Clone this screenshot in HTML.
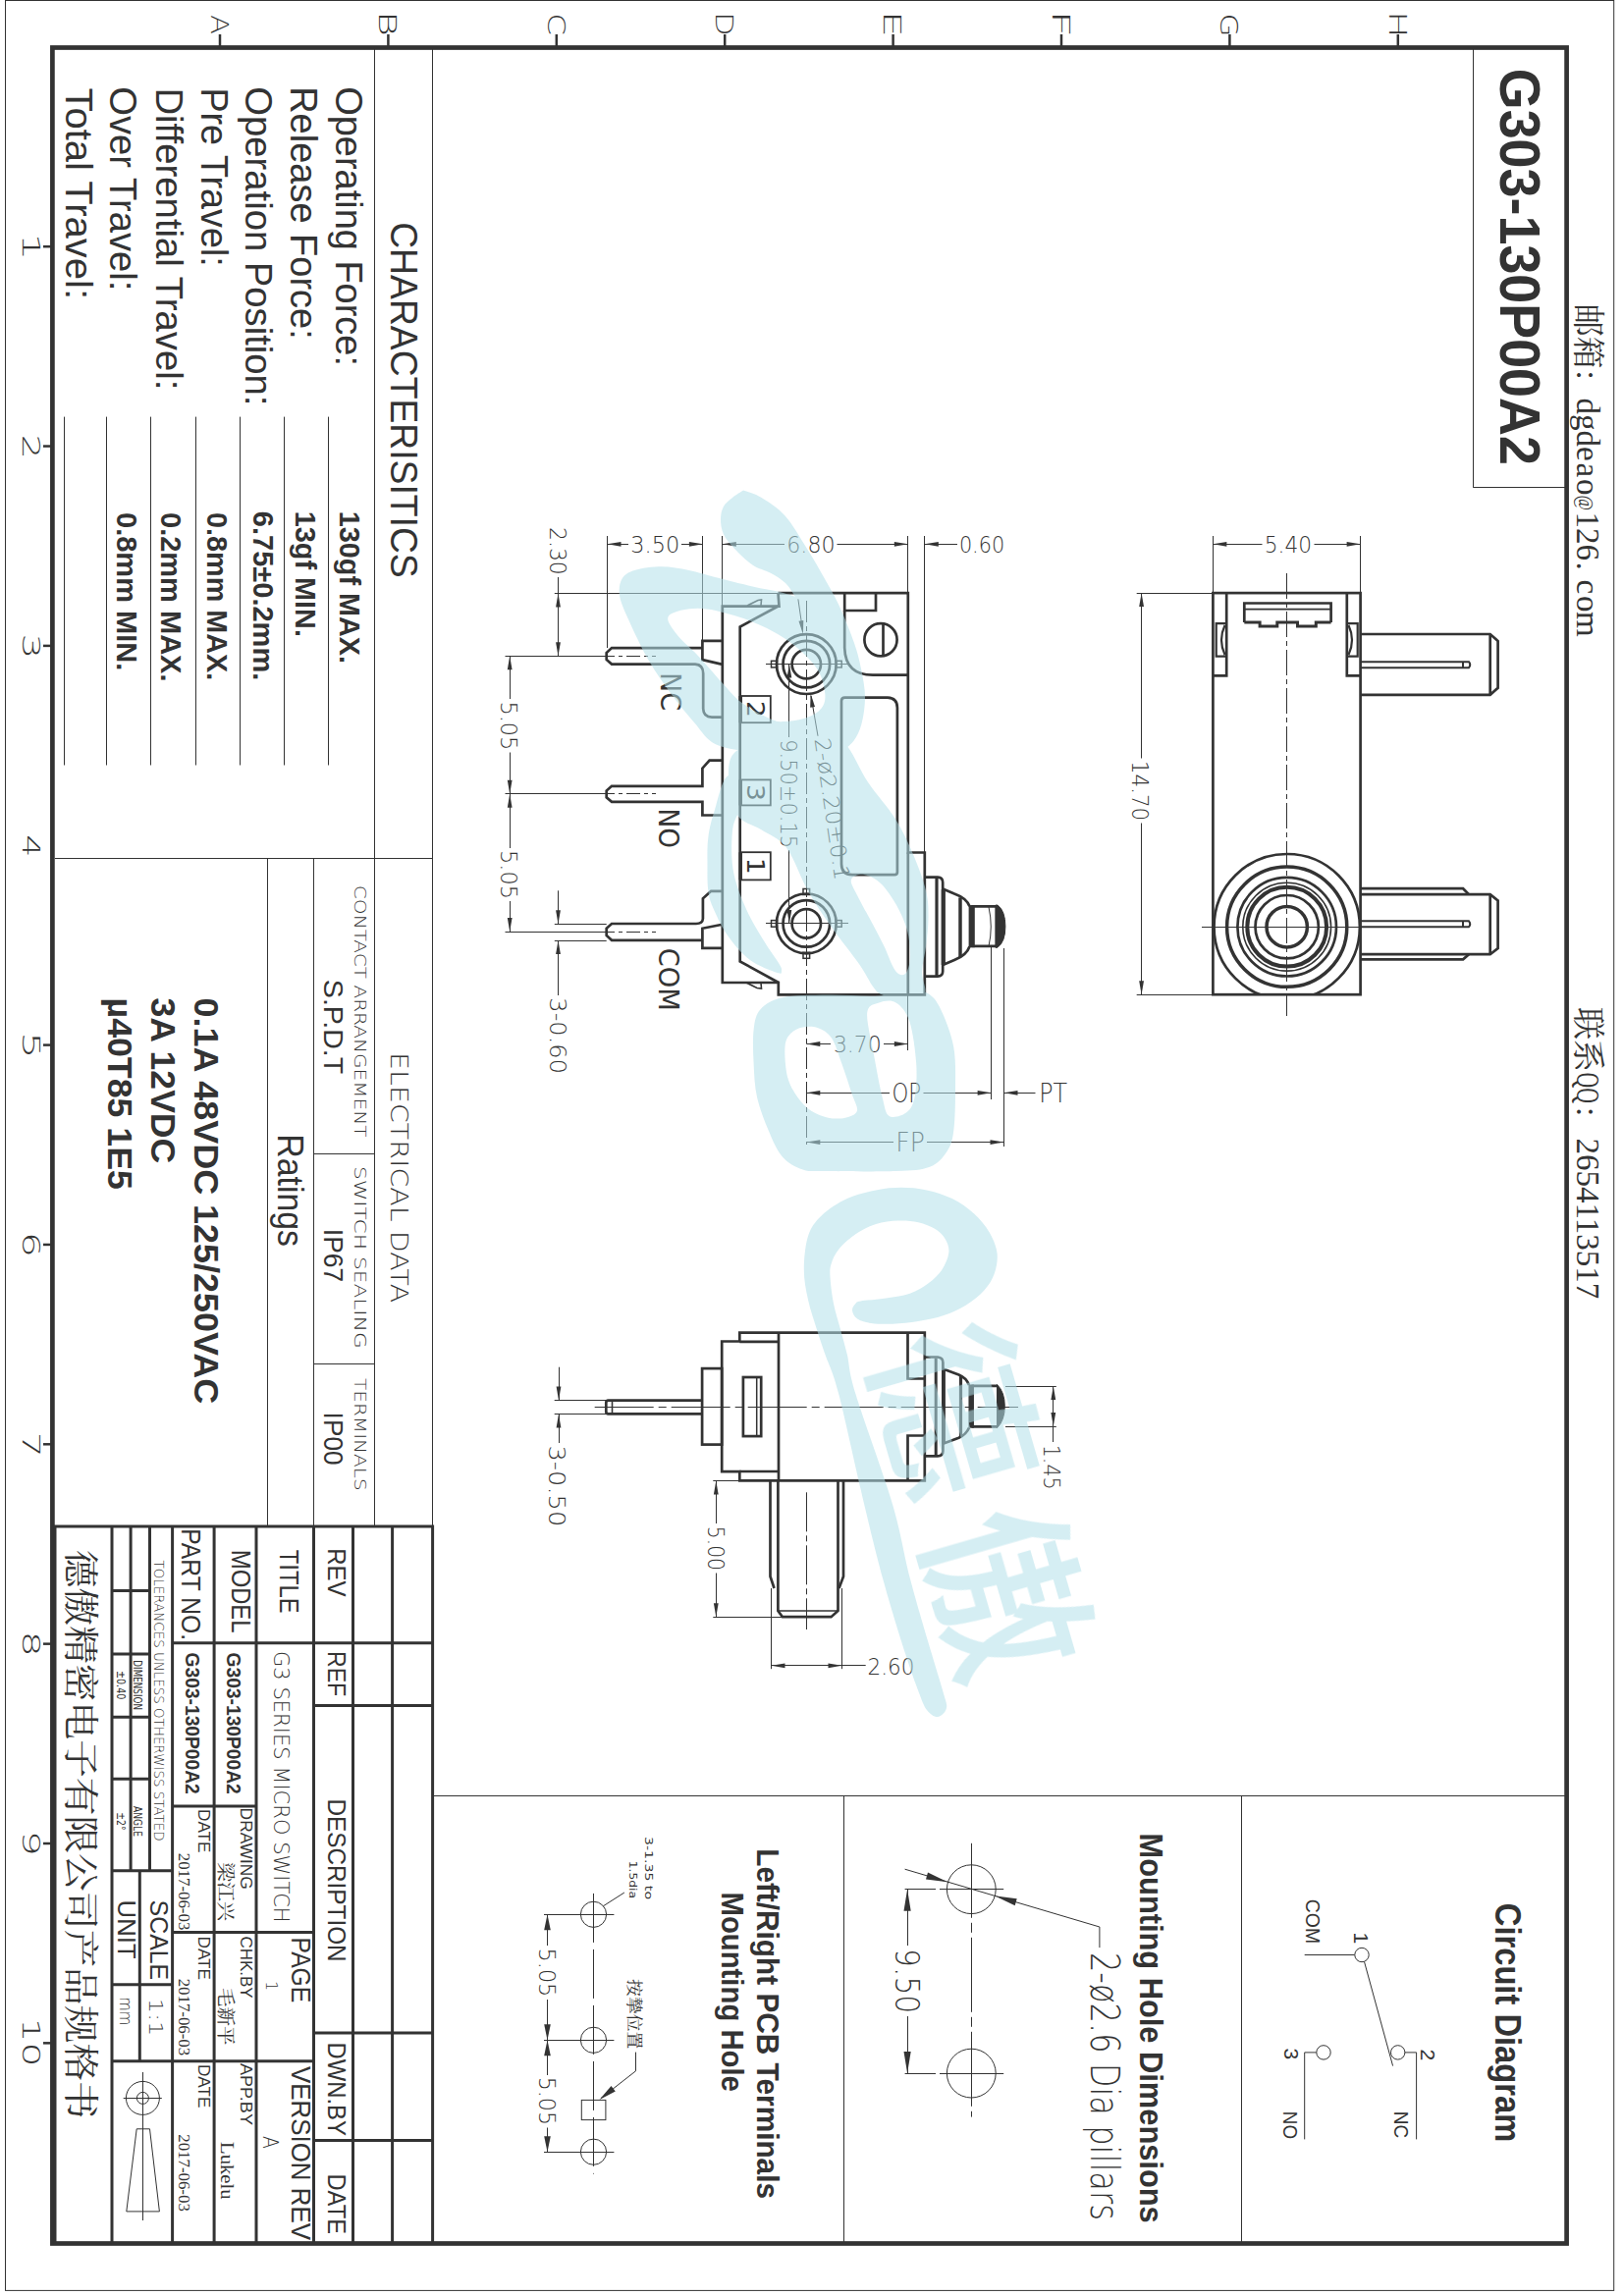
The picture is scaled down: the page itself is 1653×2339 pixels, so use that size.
<!DOCTYPE html>
<html lang="zh"><head><meta charset="utf-8"><title>G303-130P00A2</title>
<style>html,body{margin:0;padding:0;background:#fff}svg{display:block}text{white-space:pre}</style></head>
<body><svg width="1653" height="2339" viewBox="0 0 1653 2339">
<rect width="1653" height="2339" fill="#fff"/>
<rect x="5.5" y="0.5" width="1638.2" height="2332.9" stroke="#333" stroke-width="1" fill="none" />
<rect x="53.4" y="48.5" width="1542.2" height="2237" stroke="#333" stroke-width="4.7" fill="none" />
<line x1="224.0" y1="35" x2="224.0" y2="47" stroke="#333" stroke-width="2.5" />
<text transform="translate(214.8,15.1) rotate(90)" font-family='"DejaVu Sans","Liberation Sans",sans-serif' font-size="25" font-weight="200" fill="#333" text-anchor="start" textLength="20.0" lengthAdjust="spacingAndGlyphs" >A</text>
<line x1="395.4" y1="35" x2="395.4" y2="47" stroke="#333" stroke-width="2.5" />
<text transform="translate(386.2,11.2) rotate(90)" font-family='"DejaVu Sans","Liberation Sans",sans-serif' font-size="25" font-weight="200" fill="#333" text-anchor="start" textLength="25.7" lengthAdjust="spacingAndGlyphs" >B</text>
<line x1="566.8" y1="35" x2="566.8" y2="47" stroke="#333" stroke-width="2.5" />
<text transform="translate(557.5999999999999,13.3) rotate(90)" font-family='"DejaVu Sans","Liberation Sans",sans-serif' font-size="25" font-weight="200" fill="#333" text-anchor="start" textLength="22.7" lengthAdjust="spacingAndGlyphs" >C</text>
<line x1="738.2" y1="35" x2="738.2" y2="47" stroke="#333" stroke-width="2.5" />
<text transform="translate(729.0,12.1) rotate(90)" font-family='"DejaVu Sans","Liberation Sans",sans-serif' font-size="25" font-weight="200" fill="#333" text-anchor="start" textLength="24.8" lengthAdjust="spacingAndGlyphs" >D</text>
<line x1="909.6" y1="35" x2="909.6" y2="47" stroke="#333" stroke-width="2.5" />
<text transform="translate(900.4,10.7) rotate(90)" font-family='"DejaVu Sans","Liberation Sans",sans-serif' font-size="25" font-weight="200" fill="#333" text-anchor="start" textLength="27.3" lengthAdjust="spacingAndGlyphs" >E</text>
<line x1="1081.0" y1="35" x2="1081.0" y2="47" stroke="#333" stroke-width="2.5" />
<text transform="translate(1071.8,10.0) rotate(90)" font-family='"DejaVu Sans","Liberation Sans",sans-serif' font-size="25" font-weight="200" fill="#333" text-anchor="start" textLength="28.3" lengthAdjust="spacingAndGlyphs" >F</text>
<line x1="1252.4" y1="35" x2="1252.4" y2="47" stroke="#333" stroke-width="2.5" />
<text transform="translate(1243.2,13.4) rotate(90)" font-family='"DejaVu Sans","Liberation Sans",sans-serif' font-size="25" font-weight="200" fill="#333" text-anchor="start" textLength="24.1" lengthAdjust="spacingAndGlyphs" >G</text>
<line x1="1423.8" y1="35" x2="1423.8" y2="47" stroke="#333" stroke-width="2.5" />
<text transform="translate(1414.6,11.6) rotate(90)" font-family='"DejaVu Sans","Liberation Sans",sans-serif' font-size="25" font-weight="200" fill="#333" text-anchor="start" textLength="27.0" lengthAdjust="spacingAndGlyphs" >H</text>
<line x1="44" y1="251.2" x2="52" y2="251.2" stroke="#333" stroke-width="2.5" />
<text transform="translate(22.9,236.9) rotate(90)" font-family='"DejaVu Sans","Liberation Sans",sans-serif' font-size="25" font-weight="200" fill="#333" text-anchor="start" textLength="28.9" lengthAdjust="spacingAndGlyphs" >1</text>
<line x1="44" y1="454.54999999999995" x2="52" y2="454.54999999999995" stroke="#333" stroke-width="2.5" />
<text transform="translate(22.9,442.5) rotate(90)" font-family='"DejaVu Sans","Liberation Sans",sans-serif' font-size="25" font-weight="200" fill="#333" text-anchor="start" textLength="25.4" lengthAdjust="spacingAndGlyphs" >2</text>
<line x1="44" y1="657.9" x2="52" y2="657.9" stroke="#333" stroke-width="2.5" />
<text transform="translate(22.9,645.5) rotate(90)" font-family='"DejaVu Sans","Liberation Sans",sans-serif' font-size="25" font-weight="200" fill="#333" text-anchor="start" textLength="26.0" lengthAdjust="spacingAndGlyphs" >3</text>
<text transform="translate(22.9,850.2) rotate(90)" font-family='"DejaVu Sans","Liberation Sans",sans-serif' font-size="25" font-weight="200" fill="#333" text-anchor="start" textLength="23.3" lengthAdjust="spacingAndGlyphs" >4</text>
<line x1="44" y1="1064.6" x2="52" y2="1064.6" stroke="#333" stroke-width="2.5" />
<text transform="translate(22.9,1051.0) rotate(90)" font-family='"DejaVu Sans","Liberation Sans",sans-serif' font-size="25" font-weight="200" fill="#333" text-anchor="start" textLength="27.8" lengthAdjust="spacingAndGlyphs" >5</text>
<line x1="44" y1="1267.95" x2="52" y2="1267.95" stroke="#333" stroke-width="2.5" />
<text transform="translate(22.9,1254.7) rotate(90)" font-family='"DejaVu Sans","Liberation Sans",sans-serif' font-size="25" font-weight="200" fill="#333" text-anchor="start" textLength="26.2" lengthAdjust="spacingAndGlyphs" >6</text>
<line x1="44" y1="1471.3" x2="52" y2="1471.3" stroke="#333" stroke-width="2.5" />
<text transform="translate(22.9,1458.6) rotate(90)" font-family='"DejaVu Sans","Liberation Sans",sans-serif' font-size="25" font-weight="200" fill="#333" text-anchor="start" textLength="26.7" lengthAdjust="spacingAndGlyphs" >7</text>
<line x1="44" y1="1674.65" x2="52" y2="1674.65" stroke="#333" stroke-width="2.5" />
<text transform="translate(22.9,1661.4) rotate(90)" font-family='"DejaVu Sans","Liberation Sans",sans-serif' font-size="25" font-weight="200" fill="#333" text-anchor="start" textLength="26.5" lengthAdjust="spacingAndGlyphs" >8</text>
<line x1="44" y1="1878.0" x2="52" y2="1878.0" stroke="#333" stroke-width="2.5" />
<text transform="translate(22.9,1864.7) rotate(90)" font-family='"DejaVu Sans","Liberation Sans",sans-serif' font-size="25" font-weight="200" fill="#333" text-anchor="start" textLength="26.2" lengthAdjust="spacingAndGlyphs" >9</text>
<line x1="44" y1="2081.35" x2="52" y2="2081.35" stroke="#333" stroke-width="2.5" />
<text transform="translate(22.9,2055.7) rotate(90)" font-family='"DejaVu Sans","Liberation Sans",sans-serif' font-size="25" font-weight="200" fill="#333" text-anchor="start" textLength="24.8" lengthAdjust="spacingAndGlyphs" >1</text>
<text transform="translate(22.9,2080.5) rotate(90)" font-family='"DejaVu Sans","Liberation Sans",sans-serif' font-size="25" font-weight="200" fill="#333" text-anchor="start" textLength="25.2" lengthAdjust="spacingAndGlyphs" >0</text>
<line x1="381.5" y1="50" x2="381.5" y2="1555" stroke="#333" stroke-width="1" />
<line x1="440.5" y1="50" x2="440.5" y2="1555" stroke="#333" stroke-width="1" />
<line x1="56" y1="874.5" x2="440.6" y2="874.5" stroke="#333" stroke-width="1" />
<line x1="65.5" y1="424.6" x2="65.5" y2="779.5" stroke="#333" stroke-width="1" />
<line x1="108.5" y1="424.6" x2="108.5" y2="779.5" stroke="#333" stroke-width="1" />
<line x1="153.5" y1="424.6" x2="153.5" y2="779.5" stroke="#333" stroke-width="1" />
<line x1="199.5" y1="424.6" x2="199.5" y2="779.5" stroke="#333" stroke-width="1" />
<line x1="244.5" y1="424.6" x2="244.5" y2="779.5" stroke="#333" stroke-width="1" />
<line x1="289.5" y1="424.6" x2="289.5" y2="779.5" stroke="#333" stroke-width="1" />
<line x1="334.5" y1="424.6" x2="334.5" y2="779.5" stroke="#333" stroke-width="1" />
<text transform="translate(398,226.2) rotate(90)" font-family='"Liberation Sans","Noto Sans CJK SC",sans-serif' font-size="38" font-weight="400" fill="#333" text-anchor="start" textLength="362.5" lengthAdjust="spacingAndGlyphs" >CHARACTERISITICS</text>
<text transform="translate(341.5,88.2) rotate(90)" font-family='"Liberation Sans","Noto Sans CJK SC",sans-serif' font-size="38" font-weight="400" fill="#333" text-anchor="start" textLength="284.8" lengthAdjust="spacingAndGlyphs" >Operating Force:</text>
<text transform="translate(295.8,88.2) rotate(90)" font-family='"Liberation Sans","Noto Sans CJK SC",sans-serif' font-size="38" font-weight="400" fill="#333" text-anchor="start" textLength="257.5" lengthAdjust="spacingAndGlyphs" >Release Force:</text>
<text transform="translate(250.1,88.2) rotate(90)" font-family='"Liberation Sans","Noto Sans CJK SC",sans-serif' font-size="38" font-weight="400" fill="#333" text-anchor="start" textLength="325.3" lengthAdjust="spacingAndGlyphs" >Operation Position:</text>
<text transform="translate(204.9,89.4) rotate(90)" font-family='"Liberation Sans","Noto Sans CJK SC",sans-serif' font-size="38" font-weight="400" fill="#333" text-anchor="start" textLength="182.4" lengthAdjust="spacingAndGlyphs" >Pre Travel:</text>
<text transform="translate(158.7,89.4) rotate(90)" font-family='"Liberation Sans","Noto Sans CJK SC",sans-serif' font-size="38" font-weight="400" fill="#333" text-anchor="start" textLength="308.1" lengthAdjust="spacingAndGlyphs" >Differential Travel:</text>
<text transform="translate(112.4,88.2) rotate(90)" font-family='"Liberation Sans","Noto Sans CJK SC",sans-serif' font-size="38" font-weight="400" fill="#333" text-anchor="start" textLength="208.3" lengthAdjust="spacingAndGlyphs" >Over Travel:</text>
<text transform="translate(67.3,89.4) rotate(90)" font-family='"Liberation Sans","Noto Sans CJK SC",sans-serif' font-size="38" font-weight="400" fill="#333" text-anchor="start" textLength="215.6" lengthAdjust="spacingAndGlyphs" >Total Travel:</text>
<text transform="translate(345.7,520.8) rotate(90)" font-family='"Liberation Sans","Noto Sans CJK SC",sans-serif' font-size="30" font-weight="700" fill="#333" text-anchor="start" textLength="155.2" lengthAdjust="spacingAndGlyphs" >130gf MAX.</text>
<text transform="translate(301.4,520.8) rotate(90)" font-family='"Liberation Sans","Noto Sans CJK SC",sans-serif' font-size="30" font-weight="700" fill="#333" text-anchor="start" textLength="128.1" lengthAdjust="spacingAndGlyphs" >13gf MIN.</text>
<text transform="translate(258.3,520.8) rotate(90)" font-family='"Liberation Sans","Noto Sans CJK SC",sans-serif' font-size="30" font-weight="700" fill="#333" text-anchor="start" textLength="172.5" lengthAdjust="spacingAndGlyphs" >6.75±0.2mm.</text>
<text transform="translate(211.4,522) rotate(90)" font-family='"Liberation Sans","Noto Sans CJK SC",sans-serif' font-size="30" font-weight="700" fill="#333" text-anchor="start" textLength="171.3" lengthAdjust="spacingAndGlyphs" >0.8mm MAX.</text>
<text transform="translate(163.9,522) rotate(90)" font-family='"Liberation Sans","Noto Sans CJK SC",sans-serif' font-size="30" font-weight="700" fill="#333" text-anchor="start" textLength="172.5" lengthAdjust="spacingAndGlyphs" >0.2mm MAX.</text>
<text transform="translate(119,522) rotate(90)" font-family='"Liberation Sans","Noto Sans CJK SC",sans-serif' font-size="30" font-weight="700" fill="#333" text-anchor="start" textLength="161.4" lengthAdjust="spacingAndGlyphs" >0.8mm MIN.</text>
<line x1="272.5" y1="874.3" x2="272.5" y2="1555" stroke="#333" stroke-width="1" />
<line x1="319.5" y1="874.3" x2="319.5" y2="1555" stroke="#333" stroke-width="1" />
<line x1="319.1" y1="1175.5" x2="381.5" y2="1175.5" stroke="#333" stroke-width="1" />
<line x1="319.1" y1="1389.5" x2="381.5" y2="1389.5" stroke="#333" stroke-width="1" />
<text transform="translate(398.3,1072) rotate(90)" font-family='"DejaVu Sans","Liberation Sans",sans-serif' font-size="24.4" font-weight="200" fill="#333" text-anchor="start" textLength="255.2" lengthAdjust="spacingAndGlyphs" >ELECTRICAL DATA</text>
<text transform="translate(361,901.8) rotate(90)" font-family='"DejaVu Sans","Liberation Sans",sans-serif' font-size="16.2" font-weight="200" fill="#333" text-anchor="start" textLength="256.8" lengthAdjust="spacingAndGlyphs" >CONTACT ARRANGEMENT</text>
<text transform="translate(361,1188) rotate(90)" font-family='"DejaVu Sans","Liberation Sans",sans-serif' font-size="16.2" font-weight="200" fill="#333" text-anchor="start" textLength="185.8" lengthAdjust="spacingAndGlyphs" >SWITCH SEALING</text>
<text transform="translate(361,1404) rotate(90)" font-family='"DejaVu Sans","Liberation Sans",sans-serif' font-size="16.2" font-weight="200" fill="#333" text-anchor="start" textLength="114.7" lengthAdjust="spacingAndGlyphs" >TERMINALS</text>
<text transform="translate(329.6,997.8) rotate(90)" font-family='"Liberation Sans","Noto Sans CJK SC",sans-serif' font-size="27.5" font-weight="400" fill="#333" text-anchor="start" textLength="96.5" lengthAdjust="spacingAndGlyphs" >S.P.D.T</text>
<text transform="translate(329.6,1251.8) rotate(90)" font-family='"Liberation Sans","Noto Sans CJK SC",sans-serif' font-size="27.5" font-weight="400" fill="#333" text-anchor="start" textLength="54.3" lengthAdjust="spacingAndGlyphs" >IP67</text>
<text transform="translate(329.6,1438.6) rotate(90)" font-family='"Liberation Sans","Noto Sans CJK SC",sans-serif' font-size="27.5" font-weight="400" fill="#333" text-anchor="start" textLength="54" lengthAdjust="spacingAndGlyphs" >IP00</text>
<text transform="translate(283.3,1155.3) rotate(90)" font-family='"Liberation Sans","Noto Sans CJK SC",sans-serif' font-size="36.5" font-weight="400" fill="#333" text-anchor="start" textLength="114.7" lengthAdjust="spacingAndGlyphs" >Ratings</text>
<text transform="translate(197.6,1016.6) rotate(90)" font-family='"Liberation Sans","Noto Sans CJK SC",sans-serif' font-size="35.5" font-weight="700" fill="#333" text-anchor="start" textLength="413.7" lengthAdjust="spacingAndGlyphs" >0.1A 48VDC 125/250VAC</text>
<text transform="translate(154.3,1016.6) rotate(90)" font-family='"Liberation Sans","Noto Sans CJK SC",sans-serif' font-size="35.5" font-weight="700" fill="#333" text-anchor="start" textLength="168.6" lengthAdjust="spacingAndGlyphs" >3A 12VDC</text>
<text transform="translate(110,1016.6) rotate(90)" font-family='"Liberation Sans","Noto Sans CJK SC",sans-serif' font-size="35.5" font-weight="700" fill="#333" text-anchor="start" textLength="195.2" lengthAdjust="spacingAndGlyphs" >µ40T85 1E5</text>
<rect x="56" y="1555" width="384.6" height="730.5" stroke="#333" stroke-width="3.0" fill="none" />
<line x1="114" y1="1555" x2="114" y2="2285.5" stroke="#333" stroke-width="3.0" />
<line x1="175.6" y1="1555" x2="175.6" y2="2285.5" stroke="#333" stroke-width="3.0" />
<line x1="218.1" y1="1555" x2="218.1" y2="2285.5" stroke="#333" stroke-width="3.0" />
<line x1="261" y1="1555" x2="261" y2="2285.5" stroke="#333" stroke-width="3.0" />
<line x1="319.5" y1="1555" x2="319.5" y2="2285.5" stroke="#333" stroke-width="3.0" />
<line x1="359.5" y1="1555" x2="359.5" y2="2285.5" stroke="#333" stroke-width="3.0" />
<line x1="399.6" y1="1555" x2="399.6" y2="2285.5" stroke="#333" stroke-width="3.0" />
<line x1="133.1" y1="1555" x2="133.1" y2="1905.7" stroke="#333" stroke-width="3.0" />
<line x1="152.5" y1="1555" x2="152.5" y2="1905.7" stroke="#333" stroke-width="3.0" />
<line x1="175.6" y1="1673.7" x2="440.6" y2="1673.7" stroke="#333" stroke-width="3.0" />
<line x1="319.5" y1="1737.5" x2="440.6" y2="1737.5" stroke="#333" stroke-width="3.0" />
<line x1="114" y1="1620.4" x2="152.5" y2="1620.4" stroke="#333" stroke-width="3.0" />
<line x1="114" y1="1685" x2="152.5" y2="1685" stroke="#333" stroke-width="3.0" />
<line x1="114" y1="1749.2" x2="152.5" y2="1749.2" stroke="#333" stroke-width="3.0" />
<line x1="114" y1="1812.3" x2="152.5" y2="1812.3" stroke="#333" stroke-width="3.0" />
<line x1="175.6" y1="1840" x2="261" y2="1840" stroke="#333" stroke-width="3.0" />
<line x1="114" y1="1905.7" x2="175.6" y2="1905.7" stroke="#333" stroke-width="3.0" />
<line x1="175.6" y1="1968.5" x2="319.5" y2="1968.5" stroke="#333" stroke-width="3.0" />
<line x1="114" y1="2021.8" x2="175.6" y2="2021.8" stroke="#333" stroke-width="3.0" />
<line x1="319.5" y1="2071" x2="440.6" y2="2071" stroke="#333" stroke-width="3.0" />
<line x1="114" y1="2099.8" x2="319.5" y2="2099.8" stroke="#333" stroke-width="3.0" />
<line x1="319.5" y1="2180.5" x2="440.6" y2="2180.5" stroke="#333" stroke-width="3.0" />
<line x1="142.3" y1="1905.7" x2="142.3" y2="2099.8" stroke="#333" stroke-width="3.0" />
<text transform="translate(334.3,1577.3) rotate(90)" font-family='"Liberation Sans","Noto Sans CJK SC",sans-serif' font-size="26" font-weight="400" fill="#333" text-anchor="start" textLength="49.3" lengthAdjust="spacingAndGlyphs" >REV</text>
<text transform="translate(334.3,1682) rotate(90)" font-family='"Liberation Sans","Noto Sans CJK SC",sans-serif' font-size="26" font-weight="400" fill="#333" text-anchor="start" textLength="46.2" lengthAdjust="spacingAndGlyphs" >REF</text>
<text transform="translate(334.3,1832.4) rotate(90)" font-family='"Liberation Sans","Noto Sans CJK SC",sans-serif' font-size="26" font-weight="400" fill="#333" text-anchor="start" textLength="166.3" lengthAdjust="spacingAndGlyphs" >DESCRIPTION</text>
<text transform="translate(334.3,2080.4) rotate(90)" font-family='"Liberation Sans","Noto Sans CJK SC",sans-serif' font-size="26" font-weight="400" fill="#333" text-anchor="start" textLength="95.5" lengthAdjust="spacingAndGlyphs" >DWN.BY</text>
<text transform="translate(334.3,2214.4) rotate(90)" font-family='"Liberation Sans","Noto Sans CJK SC",sans-serif' font-size="26" font-weight="400" fill="#333" text-anchor="start" textLength="61.6" lengthAdjust="spacingAndGlyphs" >DATE</text>
<text transform="translate(285,1578.8) rotate(90)" font-family='"Liberation Sans","Noto Sans CJK SC",sans-serif' font-size="28" font-weight="400" fill="#333" text-anchor="start" textLength="64.7" lengthAdjust="spacingAndGlyphs" >TITLE</text>
<text transform="translate(235.7,1578.8) rotate(90)" font-family='"Liberation Sans","Noto Sans CJK SC",sans-serif' font-size="28" font-weight="400" fill="#333" text-anchor="start" textLength="84.7" lengthAdjust="spacingAndGlyphs" >MODEL</text>
<text transform="translate(184.8,1557.2) rotate(90)" font-family='"Liberation Sans","Noto Sans CJK SC",sans-serif' font-size="28" font-weight="400" fill="#333" text-anchor="start" textLength="114" lengthAdjust="spacingAndGlyphs" >PART NO.</text>
<text transform="translate(278.8,1682) rotate(90)" font-family='"DejaVu Sans","Liberation Sans",sans-serif' font-size="22" font-weight="200" fill="#333" text-anchor="start" textLength="276.7" lengthAdjust="spacingAndGlyphs" >G3 SERIES MICRO SWITCH</text>
<text transform="translate(231,1683.5) rotate(90)" font-family='"Liberation Sans","Noto Sans CJK SC",sans-serif' font-size="19.5" font-weight="700" fill="#333" text-anchor="start" textLength="144.3" lengthAdjust="spacingAndGlyphs" >G303-130P00A2</text>
<text transform="translate(188.5,1683.5) rotate(90)" font-family='"Liberation Sans","Noto Sans CJK SC",sans-serif' font-size="19.5" font-weight="700" fill="#333" text-anchor="start" textLength="144.3" lengthAdjust="spacingAndGlyphs" >G303-130P00A2</text>
<text transform="translate(297.3,1973.5) rotate(90)" font-family='"Liberation Sans","Noto Sans CJK SC",sans-serif' font-size="28" font-weight="400" fill="#333" text-anchor="start" textLength="66.8" lengthAdjust="spacingAndGlyphs" >PAGE</text>
<text transform="translate(270.5,2018) rotate(90)" font-family='"DejaVu Sans","Liberation Sans",sans-serif' font-size="16" font-weight="200" fill="#333" text-anchor="start" >1</text>
<text transform="translate(297.3,2105) rotate(90)" font-family='"Liberation Sans","Noto Sans CJK SC",sans-serif' font-size="28" font-weight="400" fill="#333" text-anchor="start" textLength="177" lengthAdjust="spacingAndGlyphs" >VERSION REV</text>
<text transform="translate(268,2175.9) rotate(90)" font-family='"DejaVu Sans","Liberation Sans",sans-serif' font-size="21" font-weight="200" fill="#333" text-anchor="start" textLength="13" lengthAdjust="spacingAndGlyphs" >A</text>
<text transform="translate(244.9,1841.6) rotate(90)" font-family='"Liberation Sans","Noto Sans CJK SC",sans-serif' font-size="16" font-weight="400" fill="#333" text-anchor="start" textLength="83.2" lengthAdjust="spacingAndGlyphs" >DRAWING</text>
<text transform="translate(244.9,1972.5) rotate(90)" font-family='"Liberation Sans","Noto Sans CJK SC",sans-serif' font-size="16" font-weight="400" fill="#333" text-anchor="start" textLength="63.2" lengthAdjust="spacingAndGlyphs" >CHK.BY</text>
<text transform="translate(244.9,2102) rotate(90)" font-family='"Liberation Sans","Noto Sans CJK SC",sans-serif' font-size="16" font-weight="400" fill="#333" text-anchor="start" textLength="63" lengthAdjust="spacingAndGlyphs" >APP.BY</text>
<text transform="translate(222.5,1897) rotate(90)" font-family='"Liberation Serif","Noto Serif CJK SC",serif' font-size="19" font-weight="400" fill="#333" text-anchor="start" textLength="60" lengthAdjust="spacingAndGlyphs" >梁江兴</text>
<text transform="translate(222.5,2025) rotate(90)" font-family='"Liberation Serif","Noto Serif CJK SC",serif' font-size="19" font-weight="400" fill="#333" text-anchor="start" textLength="58.5" lengthAdjust="spacingAndGlyphs" >毛新平</text>
<text transform="translate(224.5,2182) rotate(90)" font-family='"Liberation Serif","Noto Serif CJK SC",serif' font-size="19" font-weight="400" fill="#333" text-anchor="start" textLength="58.6" lengthAdjust="spacingAndGlyphs" >Lukelu</text>
<text transform="translate(201.8,1843) rotate(90)" font-family='"Liberation Sans","Noto Sans CJK SC",sans-serif' font-size="17" font-weight="400" fill="#333" text-anchor="start" textLength="44.5" lengthAdjust="spacingAndGlyphs" >DATE</text>
<text transform="translate(201.8,1972.5) rotate(90)" font-family='"Liberation Sans","Noto Sans CJK SC",sans-serif' font-size="17" font-weight="400" fill="#333" text-anchor="start" textLength="44.5" lengthAdjust="spacingAndGlyphs" >DATE</text>
<text transform="translate(201.8,2102.9) rotate(90)" font-family='"Liberation Sans","Noto Sans CJK SC",sans-serif' font-size="17" font-weight="400" fill="#333" text-anchor="start" textLength="44.5" lengthAdjust="spacingAndGlyphs" >DATE</text>
<text transform="translate(181.5,1887.8) rotate(90)" font-family='"Liberation Serif","Noto Serif CJK SC",serif' font-size="17" font-weight="400" fill="#333" text-anchor="start" textLength="78.5" lengthAdjust="spacingAndGlyphs" >2017-06-03</text>
<text transform="translate(181.5,2015.7) rotate(90)" font-family='"Liberation Serif","Noto Serif CJK SC",serif' font-size="17" font-weight="400" fill="#333" text-anchor="start" textLength="78.5" lengthAdjust="spacingAndGlyphs" >2017-06-03</text>
<text transform="translate(181.5,2174.3) rotate(90)" font-family='"Liberation Serif","Noto Serif CJK SC",serif' font-size="17" font-weight="400" fill="#333" text-anchor="start" textLength="78.5" lengthAdjust="spacingAndGlyphs" >2017-06-03</text>
<text transform="translate(152.5,1935.6) rotate(90)" font-family='"Liberation Sans","Noto Sans CJK SC",sans-serif' font-size="26" font-weight="400" fill="#333" text-anchor="start" textLength="81.6" lengthAdjust="spacingAndGlyphs" >SCALE</text>
<text transform="translate(120.1,1935.6) rotate(90)" font-family='"Liberation Sans","Noto Sans CJK SC",sans-serif' font-size="26" font-weight="400" fill="#333" text-anchor="start" textLength="60" lengthAdjust="spacingAndGlyphs" >UNIT</text>
<text transform="translate(152,2035.7) rotate(90)" font-family='"DejaVu Sans","Liberation Sans",sans-serif' font-size="20" font-weight="200" fill="#333" text-anchor="start" textLength="38.5" lengthAdjust="spacingAndGlyphs" >1:1</text>
<text transform="translate(121.7,2034.2) rotate(90)" font-family='"DejaVu Sans","Liberation Sans",sans-serif' font-size="17" font-weight="200" fill="#333" text-anchor="start" textLength="29.2" lengthAdjust="spacingAndGlyphs" >mm</text>
<text transform="translate(157.1,1589.6) rotate(90)" font-family='"DejaVu Sans","Liberation Sans",sans-serif' font-size="14.8" font-weight="200" fill="#333" text-anchor="start" textLength="285.9" lengthAdjust="spacingAndGlyphs" >TOLERANCES UNLESS OTHERWISS STATED</text>
<text transform="translate(136.2,1691.3) rotate(90)" font-family='"DejaVu Sans","Liberation Sans",sans-serif' font-size="11.5" font-weight="400" fill="#333" text-anchor="start" textLength="50.7" lengthAdjust="spacingAndGlyphs" >DIMENSION</text>
<text transform="translate(118.6,1702) rotate(90)" font-family='"DejaVu Sans","Liberation Sans",sans-serif' font-size="12" font-weight="400" fill="#333" text-anchor="start" textLength="29.3" lengthAdjust="spacingAndGlyphs" >±0.40</text>
<text transform="translate(136.2,1840) rotate(90)" font-family='"DejaVu Sans","Liberation Sans",sans-serif' font-size="11.5" font-weight="400" fill="#333" text-anchor="start" textLength="30.9" lengthAdjust="spacingAndGlyphs" >ANGLE</text>
<text transform="translate(118.6,1846.2) rotate(90)" font-family='"DejaVu Sans","Liberation Sans",sans-serif' font-size="12" font-weight="400" fill="#333" text-anchor="start" textLength="18.5" lengthAdjust="spacingAndGlyphs" >±2°</text>
<text transform="translate(68.5,1578.8) rotate(90)" font-family='"Liberation Serif","Noto Serif CJK SC",serif' font-size="36" font-weight="400" fill="#333" text-anchor="start" textLength="580" lengthAdjust="spacingAndGlyphs" >德傲精密电子有限公司产品规格书</text>
<circle cx="145.4" cy="2137.4" r="17" stroke="#333" stroke-width="1" fill="none"/>
<circle cx="145.4" cy="2137.4" r="6" stroke="#333" stroke-width="1" fill="none"/>
<line x1="125.7" y1="2137.5" x2="164.8" y2="2137.5" stroke="#333" stroke-width="1" />
<line x1="145.5" y1="2111" x2="145.5" y2="2262" stroke="#333" stroke-width="1" />
<path d="M139.2,2168.8 L152.5,2168.8 L162.4,2252.9 L128.8,2252.9 Z" stroke="#333" stroke-width="1" fill="none" />
<line x1="1500.5" y1="50" x2="1500.5" y2="496.8" stroke="#333" stroke-width="1" />
<line x1="1500.6" y1="496.5" x2="1595" y2="496.5" stroke="#333" stroke-width="1" />
<text transform="translate(1527.6,69.8) rotate(90)" font-family='"Liberation Sans","Noto Sans CJK SC",sans-serif' font-size="57" font-weight="700" fill="#333" text-anchor="start" textLength="404.1" lengthAdjust="spacingAndGlyphs" >G303-130P00A2</text>
<text transform="translate(1606.3,309.8) rotate(90)" font-family='"Liberation Serif","Noto Serif CJK SC",serif' font-size="33" font-weight="400" fill="#333" text-anchor="start" textLength="66" lengthAdjust="spacingAndGlyphs" >邮箱</text>
<text transform="translate(1606.3,377.5) rotate(90)" font-family='"Liberation Serif","Noto Serif CJK SC",serif' font-size="33" font-weight="400" fill="#333" text-anchor="start" >:</text>
<text transform="translate(1606.3,405.5) rotate(90)" x="0.0 16.5 33.0 49.5 66.0 82.5" font-family='"Liberation Serif","Noto Serif CJK SC",serif' font-size="33" fill="#333">dgdeao</text>
<text transform="translate(1607.5,504.5) rotate(90)" font-family='"Liberation Serif","Noto Serif CJK SC",serif' font-size="20" font-weight="400" fill="#333" text-anchor="start" textLength="15.5" lengthAdjust="spacingAndGlyphs" >@</text>
<text transform="translate(1606.3,521.5) rotate(90)" x="0.0 16.5 33.0" font-family='"Liberation Serif","Noto Serif CJK SC",serif' font-size="33" fill="#333">126</text>
<text transform="translate(1606.3,572.5) rotate(90)" font-family='"Liberation Serif","Noto Serif CJK SC",serif' font-size="33" font-weight="400" fill="#333" text-anchor="start" >.</text>
<text transform="translate(1606.3,590.5) rotate(90)" x="0.0 16.5 32.5" font-family='"Liberation Serif","Noto Serif CJK SC",serif' font-size="33" fill="#333">com</text>
<text transform="translate(1606.3,1026) rotate(90)" font-family='"Liberation Serif","Noto Serif CJK SC",serif' font-size="33" font-weight="400" fill="#333" text-anchor="start" textLength="66" lengthAdjust="spacingAndGlyphs" >联系</text>
<text transform="translate(1606.3,1092.5) rotate(90)" font-family='"Liberation Serif","Noto Serif CJK SC",serif' font-size="33" font-weight="400" fill="#333" text-anchor="start" textLength="31.5" lengthAdjust="spacingAndGlyphs" >QQ</text>
<text transform="translate(1606.3,1128) rotate(90)" font-family='"Liberation Serif","Noto Serif CJK SC",serif' font-size="33" font-weight="400" fill="#333" text-anchor="start" >:</text>
<text transform="translate(1606.3,1159.5) rotate(90)" font-family='"Liberation Serif","Noto Serif CJK SC",serif' font-size="33" font-weight="400" fill="#333" text-anchor="start" >2654113517</text>
<line x1="440.6" y1="1829.5" x2="1595" y2="1829.5" stroke="#333" stroke-width="1" />
<line x1="859.5" y1="1829.6" x2="859.5" y2="2285" stroke="#333" stroke-width="1" />
<line x1="1264.5" y1="1829.6" x2="1264.5" y2="2285" stroke="#333" stroke-width="1" />
<text transform="translate(1523,1938.8) rotate(90)" font-family='"Liberation Sans","Noto Sans CJK SC",sans-serif' font-size="36" font-weight="700" fill="#333" text-anchor="start" textLength="243.4" lengthAdjust="spacingAndGlyphs" >Circuit Diagram</text>
<text transform="translate(1161,1867.6) rotate(90)" font-family='"Liberation Sans","Noto Sans CJK SC",sans-serif' font-size="32.5" font-weight="700" fill="#333" text-anchor="start" textLength="397.1" lengthAdjust="spacingAndGlyphs" >Mounting Hole Dimensions</text>
<text transform="translate(770.8,1883.2) rotate(90)" font-family='"Liberation Sans","Noto Sans CJK SC",sans-serif' font-size="31" font-weight="700" fill="#333" text-anchor="start" textLength="356.8" lengthAdjust="spacingAndGlyphs" >Left/Right PCB Terminals</text>
<text transform="translate(734.6,1927.5) rotate(90)" font-family='"Liberation Sans","Noto Sans CJK SC",sans-serif' font-size="31" font-weight="700" fill="#333" text-anchor="start" textLength="203.4" lengthAdjust="spacingAndGlyphs" >Mounting Hole</text>
<path d="M792.5,604.2 H924.8 V868.5 H941.8 V1013.3 H792.8 V1001 H735.8 V617.6 H793.5 L792.5,604.2" stroke="#333" stroke-width="2.7" fill="none" stroke-linejoin="miter"/>
<line x1="924.8" y1="868.5" x2="924.8" y2="1013.3" stroke="#333" stroke-width="2.7" />
<path d="M793.5,617 L753.7,638.5 V979.4 L793,1001" stroke="#333" stroke-width="2.7" fill="none" />
<path d="M761,617 L772,611.5 L775.5,611 L775,617" stroke="#333" stroke-width="1.6" fill="none" />
<path d="M760,1001 L771,1006.5 L775.5,1007 L775,1001" stroke="#333" stroke-width="1.6" fill="none" />
<path d="M860.2,604.2 V622 H892 V604.2" stroke="#333" stroke-width="2.7" fill="none" />
<path d="M860.2,622 V660 Q861,687.7 889,687.7 H924.8" stroke="#333" stroke-width="2.7" fill="none" />
<circle cx="897" cy="651.8" r="16.6" stroke="#333" stroke-width="2.7" fill="none"/>
<line x1="899.5" y1="635.5" x2="899.5" y2="668.2" stroke="#333" stroke-width="2.7" />
<path d="M860.5,710.6 H904 Q913.9,711 913.9,721 V888.5 Q913.9,891.2 911,891.2 H868 Q857,891.2 857,880 V714 Q857,710.6 860.5,710.6 Z" stroke="#333" stroke-width="2.7" fill="none" />
<circle cx="821.3" cy="676.6" r="30.4" stroke="#333" stroke-width="2.7" fill="none"/>
<circle cx="821.3" cy="676.6" r="23.8" stroke="#333" stroke-width="2.7" fill="none"/>
<circle cx="821.3" cy="676.6" r="14.7" stroke="#333" stroke-width="2.7" fill="none"/>
<line x1="780" y1="676.5" x2="864" y2="676.5" stroke="#333" stroke-width="1.0" />
<rect x="785.5" y="673.3000000000001" width="6" height="6.6" stroke="#333" stroke-width="1.5" fill="none" />
<rect x="851.2" y="673.3000000000001" width="6" height="6.6" stroke="#333" stroke-width="1.5" fill="none" />
<circle cx="821.3" cy="940.9" r="30.4" stroke="#333" stroke-width="2.7" fill="none"/>
<circle cx="821.3" cy="940.9" r="23.8" stroke="#333" stroke-width="2.7" fill="none"/>
<circle cx="821.3" cy="940.9" r="14.7" stroke="#333" stroke-width="2.7" fill="none"/>
<line x1="780" y1="940.5" x2="864" y2="940.5" stroke="#333" stroke-width="1.0" />
<rect x="785.5" y="937.6" width="6" height="6.6" stroke="#333" stroke-width="1.5" fill="none" />
<rect x="851.2" y="937.6" width="6" height="6.6" stroke="#333" stroke-width="1.5" fill="none" />
<rect x="818" y="905.5" width="6.6" height="6" stroke="#333" stroke-width="1.5" fill="none" />
<rect x="818" y="970.3" width="6.6" height="6" stroke="#333" stroke-width="1.5" fill="none" />
<line x1="821.5" y1="612" x2="821.5" y2="1166" stroke="#333" stroke-width="1.0" stroke-dasharray="22 4 5 4"/>
<rect x="755" y="709" width="29.8" height="27.2" stroke="#333" stroke-width="1.8" fill="none" />
<text transform="translate(760.5,714.1) rotate(90)" font-family='"DejaVu Sans","Liberation Sans",sans-serif' font-size="24" font-weight="400" fill="#333" text-anchor="start" textLength="17" lengthAdjust="spacingAndGlyphs" >2</text>
<rect x="755" y="794.4" width="29.8" height="26" stroke="#333" stroke-width="1.8" fill="none" />
<text transform="translate(760.5,798.9) rotate(90)" font-family='"DejaVu Sans","Liberation Sans",sans-serif' font-size="24" font-weight="400" fill="#333" text-anchor="start" textLength="17" lengthAdjust="spacingAndGlyphs" >3</text>
<rect x="755" y="868.2" width="29.8" height="28.2" stroke="#333" stroke-width="1.8" fill="none" />
<text transform="translate(760.5,873.8000000000001) rotate(90)" font-family='"DejaVu Sans","Liberation Sans",sans-serif' font-size="24" font-weight="400" fill="#333" text-anchor="start" textLength="17" lengthAdjust="spacingAndGlyphs" >1</text>
<line x1="754.2" y1="709" x2="754.2" y2="736.2" stroke="#333" stroke-width="3.4" />
<line x1="754.2" y1="794.4" x2="754.2" y2="820.4" stroke="#333" stroke-width="3.4" />
<line x1="754.2" y1="868.2" x2="754.2" y2="896.4" stroke="#333" stroke-width="3.4" />
<path d="M715.4,660.1 H623 L617.7,665 V672 L623,676.6 H708 Q716.2,677 716.2,686 V722 Q716.5,730.6 725,730.6 H735.8" stroke="#333" stroke-width="2.7" fill="none" />
<path d="M735.8,652.9 H715.4 V672.1 L735.8,676.9" stroke="#333" stroke-width="2.7" fill="none" />
<path d="M735.8,774.7 H722.6 L715.4,782.7 V800.8 H623 L617.7,805.5 V812.3 L623,816.8 H715.4 V830.5 H735.8" stroke="#333" stroke-width="2.7" fill="none" />
<path d="M735.8,907.8 H724.2 L715.9,915.3 V936 Q715.5,941 709,941 H623 L617.7,945.8 V953 L623,957.8 H715.4" stroke="#333" stroke-width="2.7" fill="none" />
<path d="M735.8,941.8 L715.4,945.8 V965.8 H735.8" stroke="#333" stroke-width="2.7" fill="none" />
<line x1="514.5" y1="668.5" x2="612" y2="668.5" stroke="#333" stroke-width="1.0" />
<line x1="612" y1="668.5" x2="668" y2="668.5" stroke="#333" stroke-width="1.0" stroke-dasharray="14 4 4 4"/>
<line x1="514.5" y1="808.5" x2="612" y2="808.5" stroke="#333" stroke-width="1.0" />
<line x1="612" y1="808.5" x2="668" y2="808.5" stroke="#333" stroke-width="1.0" stroke-dasharray="14 4 4 4"/>
<line x1="514.5" y1="949.5" x2="612" y2="949.5" stroke="#333" stroke-width="1.0" />
<line x1="612" y1="949.5" x2="668" y2="949.5" stroke="#333" stroke-width="1.0" stroke-dasharray="14 4 4 4"/>
<text transform="translate(673,685) rotate(90)" font-family='"DejaVu Sans","Liberation Sans",sans-serif' font-size="28.5" font-weight="400" fill="#333" text-anchor="start" textLength="39.2" lengthAdjust="spacingAndGlyphs" >NC</text>
<text transform="translate(671.4,823.5) rotate(90)" font-family='"DejaVu Sans","Liberation Sans",sans-serif' font-size="28.5" font-weight="400" fill="#333" text-anchor="start" textLength="40.5" lengthAdjust="spacingAndGlyphs" >NO</text>
<text transform="translate(671.4,965.8) rotate(90)" font-family='"DejaVu Sans","Liberation Sans",sans-serif' font-size="28.5" font-weight="400" fill="#333" text-anchor="start" textLength="64.1" lengthAdjust="spacingAndGlyphs" >COM</text>
<path d="M941.8,893.7 H955 Q960.2,894 960.2,899 V989.5 Q960.2,994.6 955,994.6 H941.8" stroke="#333" stroke-width="2.7" fill="none" />
<line x1="954" y1="894.5" x2="954" y2="994" stroke="#333" stroke-width="3.2" />
<path d="M960.2,905.5 L972,910.5 Q984.5,915 987.5,923.3 M960.2,983 L972,978 Q984.5,973 987.5,964.2" stroke="#333" stroke-width="2.7" fill="none" />
<line x1="960.8" y1="906.2" x2="960.8" y2="983.1" stroke="#333" stroke-width="4.2" />
<line x1="978" y1="914.4" x2="978" y2="975" stroke="#333" stroke-width="3.5" />
<path d="M989.3,923.4 H1016 M989.3,963.9 H1016" stroke="#333" stroke-width="2.7" fill="none" />
<line x1="989.7" y1="922.1" x2="989.7" y2="965.2" stroke="#333" stroke-width="6.2" />
<path d="M1013.9,922.1 H1016 Q1023.9,928 1023.9,943.7 Q1023.9,959.5 1016,965.2 H1013.9 Z" stroke="#333" stroke-width="1" fill="#333" />
<path d="M1007,924 Q1011.5,944 1007,964" stroke="#333" stroke-width="1" fill="none" />
<line x1="618.5" y1="546" x2="618.5" y2="660" stroke="#333" stroke-width="1.0" />
<line x1="715.5" y1="546" x2="715.5" y2="652" stroke="#333" stroke-width="1.0" />
<line x1="735.5" y1="546" x2="735.5" y2="617" stroke="#333" stroke-width="1.0" />
<line x1="924.5" y1="546" x2="924.5" y2="604" stroke="#333" stroke-width="1.0" />
<line x1="941.5" y1="546" x2="941.5" y2="868.5" stroke="#333" stroke-width="1.0" />
<line x1="618.5" y1="554.5" x2="640" y2="554.5" stroke="#333" stroke-width="1.0" />
<line x1="694" y1="554.5" x2="715.9" y2="554.5" stroke="#333" stroke-width="1.0" />
<polygon points="618.5,554.3 632.5,551.9 632.5,556.7" fill="#333"/>
<polygon points="715.9,554.3 701.9,556.7 701.9,551.9" fill="#333"/>
<text transform="translate(642.3,562.8) rotate(0)" font-family='"DejaVu Sans","Liberation Sans",sans-serif' font-size="23" font-weight="200" fill="#333" text-anchor="start" textLength="49.9" lengthAdjust="spacingAndGlyphs" >3.50</text>
<line x1="735.8" y1="554.5" x2="799" y2="554.5" stroke="#333" stroke-width="1.0" />
<line x1="852.5" y1="554.5" x2="924.8" y2="554.5" stroke="#333" stroke-width="1.0" />
<polygon points="735.8,554.3 749.8,551.9 749.8,556.7" fill="#333"/>
<polygon points="924.8,554.3 910.8,556.7 910.8,551.9" fill="#333"/>
<text transform="translate(801.3,562.8) rotate(0)" font-family='"DejaVu Sans","Liberation Sans",sans-serif' font-size="23" font-weight="200" fill="#333" text-anchor="start" textLength="49.2" lengthAdjust="spacingAndGlyphs" >6.80</text>
<line x1="941.8" y1="554.5" x2="975" y2="554.5" stroke="#333" stroke-width="1.0" />
<polygon points="941.8,554.3 955.8,551.9 955.8,556.7" fill="#333"/>
<text transform="translate(976.9,562.8) rotate(0)" font-family='"DejaVu Sans","Liberation Sans",sans-serif' font-size="23" font-weight="200" fill="#333" text-anchor="start" textLength="46.2" lengthAdjust="spacingAndGlyphs" >0.60</text>
<line x1="564.8" y1="604.5" x2="792" y2="604.5" stroke="#333" stroke-width="1.0" />
<line x1="568.5" y1="588" x2="568.5" y2="668.3" stroke="#333" stroke-width="1.0" />
<polygon points="568.5,604.4 570.9,618.4 566.1,618.4" fill="#333"/>
<polygon points="568.5,668.3 566.1,654.3 570.9,654.3" fill="#333"/>
<text transform="translate(559.6,537) rotate(90)" font-family='"DejaVu Sans","Liberation Sans",sans-serif' font-size="23" font-weight="200" fill="#333" text-anchor="start" textLength="48.8" lengthAdjust="spacingAndGlyphs" >2.30</text>
<line x1="519.5" y1="668.3" x2="519.5" y2="712" stroke="#333" stroke-width="1.0" />
<line x1="519.5" y1="766.5" x2="519.5" y2="808.8" stroke="#333" stroke-width="1.0" />
<line x1="519.5" y1="808.8" x2="519.5" y2="864" stroke="#333" stroke-width="1.0" />
<line x1="519.5" y1="918" x2="519.5" y2="949.1" stroke="#333" stroke-width="1.0" />
<polygon points="519.2,668.3 521.6,682.3 516.8,682.3" fill="#333"/>
<polygon points="519.2,808.8 516.8,794.8 521.6,794.8" fill="#333"/>
<polygon points="519.2,808.8 521.6,822.8 516.8,822.8" fill="#333"/>
<polygon points="519.2,949.1 516.8,935.1 521.6,935.1" fill="#333"/>
<text transform="translate(510,714.4) rotate(90)" font-family='"DejaVu Sans","Liberation Sans",sans-serif' font-size="23" font-weight="200" fill="#333" text-anchor="start" textLength="49.9" lengthAdjust="spacingAndGlyphs" >5.05</text>
<text transform="translate(510,866) rotate(90)" font-family='"DejaVu Sans","Liberation Sans",sans-serif' font-size="23" font-weight="200" fill="#333" text-anchor="start" textLength="49.9" lengthAdjust="spacingAndGlyphs" >5.05</text>
<line x1="564.8" y1="941.5" x2="617.7" y2="941.5" stroke="#333" stroke-width="1.0" />
<line x1="564.8" y1="958.5" x2="617.7" y2="958.5" stroke="#333" stroke-width="1.0" />
<line x1="568.5" y1="907.3" x2="568.5" y2="941.3" stroke="#333" stroke-width="1.0" />
<line x1="568.5" y1="958.1" x2="568.5" y2="1014" stroke="#333" stroke-width="1.0" />
<polygon points="568.5,941.3 566.1,927.3 570.9,927.3" fill="#333"/>
<polygon points="568.5,958.1 570.9,972.1 566.1,972.1" fill="#333"/>
<text transform="translate(560,1016.3) rotate(90)" font-family='"DejaVu Sans","Liberation Sans",sans-serif' font-size="23" font-weight="200" fill="#333" text-anchor="start" textLength="77.7" lengthAdjust="spacingAndGlyphs" >3-0.60</text>
<line x1="803.5" y1="677" x2="803.5" y2="751" stroke="#333" stroke-width="1.0" />
<line x1="803.5" y1="866" x2="803.5" y2="940.9" stroke="#333" stroke-width="1.0" />
<polygon points="803.9,676.6 806.3,690.6 801.5,690.6" fill="#333"/>
<polygon points="803.9,940.9 801.5,926.9 806.3,926.9" fill="#333"/>
<text transform="translate(794.5,753.2) rotate(90)" font-family='"DejaVu Sans","Liberation Sans",sans-serif' font-size="23" font-weight="200" fill="#333" text-anchor="start" textLength="110.9" lengthAdjust="spacingAndGlyphs" >9.50±0.15</text>
<line x1="812.9" y1="610.4" x2="817.6" y2="643" stroke="#333" stroke-width="1.0" />
<polygon points="817.9,646.3 813.5,632.8 818.3,632.1" fill="#333"/>
<line x1="826" y1="709" x2="833" y2="749.8" stroke="#333" stroke-width="1.0" />
<polygon points="825.6,706.6 830.0,720.1 825.2,720.8" fill="#333"/>
<text transform="translate(829.5,753) rotate(81.8)" font-family='"DejaVu Sans","Liberation Sans",sans-serif' font-size="22" font-weight="200" fill="#333" text-anchor="start" textLength="146" lengthAdjust="spacingAndGlyphs" >2-ø2.20±0.1</text>
<line x1="924.5" y1="1013.3" x2="924.5" y2="1070" stroke="#333" stroke-width="1.0" />
<line x1="1009.5" y1="965" x2="1009.5" y2="1120" stroke="#333" stroke-width="1.0" />
<line x1="1022.5" y1="966" x2="1022.5" y2="1168" stroke="#333" stroke-width="1.0" />
<line x1="821.3" y1="1063.5" x2="846" y2="1063.5" stroke="#333" stroke-width="1.0" />
<line x1="900" y1="1063.5" x2="924.8" y2="1063.5" stroke="#333" stroke-width="1.0" />
<polygon points="821.3,1063.5 835.3,1061.1 835.3,1065.9" fill="#333"/>
<polygon points="924.8,1063.5 910.8,1065.9 910.8,1061.1" fill="#333"/>
<text transform="translate(848.9,1072.3) rotate(0)" font-family='"DejaVu Sans","Liberation Sans",sans-serif' font-size="23" font-weight="200" fill="#333" text-anchor="start" textLength="48.9" lengthAdjust="spacingAndGlyphs" >3.70</text>
<line x1="821.3" y1="1113.5" x2="906" y2="1113.5" stroke="#333" stroke-width="1.0" />
<line x1="940.5" y1="1113.5" x2="1009.6" y2="1113.5" stroke="#333" stroke-width="1.0" />
<line x1="1022.5" y1="1113.5" x2="1054.5" y2="1113.5" stroke="#333" stroke-width="1.0" />
<polygon points="821.3,1113.3 835.3,1110.9 835.3,1115.7" fill="#333"/>
<polygon points="1009.6,1113.3 995.6,1115.7 995.6,1110.9" fill="#333"/>
<polygon points="1022.5,1113.3 1036.5,1110.9 1036.5,1115.7" fill="#333"/>
<text transform="translate(908.5,1122.5) rotate(0)" font-family='"DejaVu Sans","Liberation Sans",sans-serif' font-size="26" font-weight="200" fill="#333" text-anchor="start" textLength="29.6" lengthAdjust="spacingAndGlyphs" >OP</text>
<text transform="translate(1058.2,1122.5) rotate(0)" font-family='"DejaVu Sans","Liberation Sans",sans-serif' font-size="26" font-weight="200" fill="#333" text-anchor="start" textLength="28.8" lengthAdjust="spacingAndGlyphs" >PT</text>
<line x1="821.3" y1="1163.5" x2="910" y2="1163.5" stroke="#333" stroke-width="1.0" />
<line x1="944" y1="1163.5" x2="1022.5" y2="1163.5" stroke="#333" stroke-width="1.0" />
<polygon points="821.3,1163.6 835.3,1161.2 835.3,1166.0" fill="#333"/>
<polygon points="1022.5,1163.6 1008.5,1166.0 1008.5,1161.2" fill="#333"/>
<text transform="translate(912.2,1172.8) rotate(0)" font-family='"DejaVu Sans","Liberation Sans",sans-serif' font-size="26" font-weight="200" fill="#333" text-anchor="start" textLength="29.6" lengthAdjust="spacingAndGlyphs" >FP</text>
<rect x="1235.4" y="604.1" width="150.2" height="409.1" stroke="#333" stroke-width="2.7" fill="none" />
<line x1="1310.5" y1="584" x2="1310.5" y2="1035" stroke="#333" stroke-width="1.0" stroke-dasharray="26 4 5 4"/>
<path d="M1249.2,604.1 V688.4 H1235.4" stroke="#333" stroke-width="2.7" fill="none" />
<path d="M1371.8,604.1 V688.4 H1385.6" stroke="#333" stroke-width="2.7" fill="none" />
<path d="M1249.2,635.2 H1238.7 V668.7 H1249.2 M1247.5,637 Q1240.5,652 1247.5,667" stroke="#333" stroke-width="2.2" fill="none" />
<path d="M1371.8,635.2 H1382.7 V668.7 H1371.8 M1373.5,637 Q1380.5,652 1373.5,667" stroke="#333" stroke-width="2.2" fill="none" />
<path d="M1267.3,634 V614.5 H1355.6 V634" stroke="#333" stroke-width="2.7" fill="none" />
<line x1="1267.3" y1="620.6" x2="1355.6" y2="620.6" stroke="#333" stroke-width="1.6" />
<path d="M1267.3,634 H1283.1 V638 H1300.8 V634 H1321.5 V638 H1340.3 V634 H1355.6" stroke="#333" stroke-width="3" fill="none" />
<path d="M1385.6,646 H1517.7 L1525.6,653 V700.8 L1517.7,707.8 H1385.6" stroke="#333" stroke-width="2.7" fill="none" />
<line x1="1517.7" y1="646" x2="1517.7" y2="707.8" stroke="#333" stroke-width="2.7" />
<path d="M1385.6,674.2 H1496 Q1498.5,677.2 1496,680.2 H1385.6 M1490,674.2 V680.2" stroke="#333" stroke-width="2" fill="none" />
<clipPath id="cpb"><rect x="1230" y="860" width="160" height="153.2"/></clipPath>
<circle cx="1310.7" cy="944.2" r="74.2" stroke="#333" stroke-width="2.7" fill="none" clip-path="url(#cpb)"/>
<circle cx="1310.7" cy="944.2" r="61.1" stroke="#333" stroke-width="3.5" fill="none"/>
<circle cx="1310.7" cy="944.2" r="50.3" stroke="#333" stroke-width="2.7" fill="none"/>
<circle cx="1310.7" cy="944.2" r="44.9" stroke="#333" stroke-width="1.6" fill="none"/>
<circle cx="1310.7" cy="944.2" r="40.4" stroke="#333" stroke-width="4" fill="none"/>
<circle cx="1310.7" cy="944.2" r="32.2" stroke="#333" stroke-width="2.7" fill="none"/>
<circle cx="1310.7" cy="944.2" r="20.7" stroke="#333" stroke-width="3.5" fill="none"/>
<line x1="1224" y1="944.5" x2="1385.6" y2="944.5" stroke="#333" stroke-width="1.0" />
<path d="M1385.6,905.2 H1490.1 L1496,911.1 M1385.6,977.3 H1490.1 L1496,972.2" stroke="#333" stroke-width="2.7" fill="none" />
<path d="M1385.6,911.1 H1517.7 L1525.6,917.5 V966 L1517.7,972.2 H1385.6" stroke="#333" stroke-width="2.7" fill="none" />
<line x1="1517.7" y1="911.1" x2="1517.7" y2="972.2" stroke="#333" stroke-width="2.7" />
<path d="M1385.6,938.3 H1496 Q1498.5,941.3 1496,944.2 H1385.6 M1490,938.3 V944.2" stroke="#333" stroke-width="2" fill="none" />
<line x1="1235.5" y1="546" x2="1235.5" y2="604" stroke="#333" stroke-width="1.0" />
<line x1="1385.5" y1="546" x2="1385.5" y2="604" stroke="#333" stroke-width="1.0" />
<line x1="1235.4" y1="554.5" x2="1285.5" y2="554.5" stroke="#333" stroke-width="1.0" />
<line x1="1338.5" y1="554.5" x2="1385.6" y2="554.5" stroke="#333" stroke-width="1.0" />
<polygon points="1235.4,554.3 1249.4,551.9 1249.4,556.7" fill="#333"/>
<polygon points="1385.6,554.3 1371.6,556.7 1371.6,551.9" fill="#333"/>
<text transform="translate(1287.8,562.8) rotate(0)" font-family='"DejaVu Sans","Liberation Sans",sans-serif' font-size="23" font-weight="200" fill="#333" text-anchor="start" textLength="48.3" lengthAdjust="spacingAndGlyphs" >5.40</text>
<line x1="1157.7" y1="604.5" x2="1235" y2="604.5" stroke="#333" stroke-width="1.0" />
<line x1="1157.7" y1="1013.5" x2="1235" y2="1013.5" stroke="#333" stroke-width="1.0" />
<line x1="1162.5" y1="604.1" x2="1162.5" y2="772.5" stroke="#333" stroke-width="1.0" />
<line x1="1162.5" y1="838.5" x2="1162.5" y2="1013.2" stroke="#333" stroke-width="1.0" />
<polygon points="1162.6,604.1 1165.0,618.1 1160.2,618.1" fill="#333"/>
<polygon points="1162.6,1013.2 1160.2,999.2 1165.0,999.2" fill="#333"/>
<text transform="translate(1153,775) rotate(90)" font-family='"DejaVu Sans","Liberation Sans",sans-serif' font-size="23" font-weight="200" fill="#333" text-anchor="start" textLength="61.2" lengthAdjust="spacingAndGlyphs" >14.70</text>
<path d="M753.3,1357.6 H941.8 V1508.4 H753.3 V1499.2 H735.2 V1366.5 H753.3 Z" stroke="#333" stroke-width="2.7" fill="none" />
<line x1="793" y1="1357.6" x2="793" y2="1508.4" stroke="#333" stroke-width="2.7" />
<line x1="753.3" y1="1366.8" x2="793" y2="1366.8" stroke="#333" stroke-width="2.7" />
<line x1="753.3" y1="1499" x2="793" y2="1499" stroke="#333" stroke-width="2.7" />
<line x1="623.5" y1="1426.6" x2="623.5" y2="1440.4" stroke="#333" stroke-width="1.6" />
<rect x="715.1" y="1394.1" width="20.1" height="77.5" stroke="#333" stroke-width="2.7" fill="none" />
<path d="M715.1,1426.6 H619.5 Q617.3,1426.6 617.3,1429 V1438 Q617.3,1440.4 619.5,1440.4 H715.1" stroke="#333" stroke-width="2.7" fill="none" />
<rect x="756.9" y="1403" width="18.3" height="60.1" stroke="#333" stroke-width="2.7" fill="none" />
<line x1="770.7" y1="1403" x2="770.7" y2="1463.1" stroke="#333" stroke-width="1.5" />
<path d="M924.5,1357.6 V1404.5 H941.8 M924.5,1508.4 V1462.5 H941.8" stroke="#333" stroke-width="2.7" fill="none" />
<path d="M941.8,1382.5 H955 Q960.4,1383 960.4,1388 V1478 Q960.4,1483.3 955,1483.3 H941.8" stroke="#333" stroke-width="2.7" fill="none" />
<line x1="953.2" y1="1383.5" x2="953.2" y2="1482.5" stroke="#333" stroke-width="3" />
<path d="M960.4,1394.5 L976.5,1400.5 Q984,1403.5 987,1411 M960.4,1470.8 L976.5,1464.7 Q984,1461.5 987,1454.5" stroke="#333" stroke-width="2.7" fill="none" />
<line x1="961" y1="1394.4" x2="961" y2="1470.8" stroke="#333" stroke-width="3.8" />
<line x1="978.5" y1="1401.8" x2="978.5" y2="1463.5" stroke="#333" stroke-width="3.2" />
<line x1="989.2" y1="1410.5" x2="989.2" y2="1454.7" stroke="#333" stroke-width="5.5" />
<path d="M989.5,1411.8 H1016 M989.5,1453.4 H1016" stroke="#333" stroke-width="2.7" fill="none" />
<path d="M1015.5,1410.5 Q1023.3,1418 1023.3,1432.6 Q1023.3,1447 1015.5,1454.7 Z" stroke="#333" stroke-width="1" fill="#333" />
<line x1="605.7" y1="1433.5" x2="1037" y2="1433.5" stroke="#333" stroke-width="1.0" stroke-dasharray="60 5 8 5"/>
<path d="M784.5,1508.4 V1606 L788.5,1618 M859,1508.4 V1606 L854.5,1618" stroke="#333" stroke-width="2.7" fill="none" />
<path d="M792.4,1508.4 V1641 L797,1647.2 H846.5 L853.5,1641 V1508.4" stroke="#333" stroke-width="2.7" fill="none" />
<line x1="793" y1="1641" x2="853" y2="1641" stroke="#333" stroke-width="1.5" />
<line x1="821.5" y1="1520.3" x2="821.5" y2="1660" stroke="#333" stroke-width="1.0" stroke-dasharray="40 4 6 4"/>
<line x1="726.3" y1="1508.5" x2="753" y2="1508.5" stroke="#333" stroke-width="1.0" />
<line x1="726.3" y1="1647.5" x2="797" y2="1647.5" stroke="#333" stroke-width="1.0" />
<line x1="729.5" y1="1508.4" x2="729.5" y2="1552" stroke="#333" stroke-width="1.0" />
<line x1="729.5" y1="1602.5" x2="729.5" y2="1647.2" stroke="#333" stroke-width="1.0" />
<polygon points="729.3,1508.4 731.7,1522.4 726.9,1522.4" fill="#333"/>
<polygon points="729.3,1647.2 726.9,1633.2 731.7,1633.2" fill="#333"/>
<text transform="translate(720.6,1554.8) rotate(90)" font-family='"DejaVu Sans","Liberation Sans",sans-serif' font-size="23" font-weight="200" fill="#333" text-anchor="start" textLength="45.2" lengthAdjust="spacingAndGlyphs" >5.00</text>
<line x1="785.5" y1="1618" x2="785.5" y2="1700.2" stroke="#333" stroke-width="1.0" />
<line x1="857.5" y1="1618" x2="857.5" y2="1700.2" stroke="#333" stroke-width="1.0" />
<line x1="785.5" y1="1696.5" x2="881.7" y2="1696.5" stroke="#333" stroke-width="1.0" />
<polygon points="785.5,1696.8 799.5,1694.4 799.5,1699.2" fill="#333"/>
<polygon points="857.5,1696.8 843.5,1699.2 843.5,1694.4" fill="#333"/>
<text transform="translate(883.5,1705.6) rotate(0)" font-family='"DejaVu Sans","Liberation Sans",sans-serif' font-size="23" font-weight="200" fill="#333" text-anchor="start" textLength="47.8" lengthAdjust="spacingAndGlyphs" >2.60</text>
<line x1="1024" y1="1412.5" x2="1075.8" y2="1412.5" stroke="#333" stroke-width="1.0" />
<line x1="1024" y1="1453.5" x2="1075.8" y2="1453.5" stroke="#333" stroke-width="1.0" />
<line x1="1072.5" y1="1412.1" x2="1072.5" y2="1469" stroke="#333" stroke-width="1.0" />
<polygon points="1072.8,1412.1 1075.2,1426.1 1070.4,1426.1" fill="#333"/>
<polygon points="1072.8,1453.1 1070.4,1439.1 1075.2,1439.1" fill="#333"/>
<text transform="translate(1063.3,1471.7) rotate(90)" font-family='"DejaVu Sans","Liberation Sans",sans-serif' font-size="23" font-weight="200" fill="#333" text-anchor="start" textLength="46.1" lengthAdjust="spacingAndGlyphs" >1.45</text>
<line x1="564.7" y1="1426.5" x2="617" y2="1426.5" stroke="#333" stroke-width="1.0" />
<line x1="564.7" y1="1440.5" x2="617" y2="1440.5" stroke="#333" stroke-width="1.0" />
<line x1="569.5" y1="1392.7" x2="569.5" y2="1426.6" stroke="#333" stroke-width="1.0" />
<line x1="569.5" y1="1440.4" x2="569.5" y2="1470" stroke="#333" stroke-width="1.0" />
<polygon points="569.0,1426.6 566.6,1412.6 571.4,1412.6" fill="#333"/>
<polygon points="569.0,1440.4 571.4,1454.4 566.6,1454.4" fill="#333"/>
<text transform="translate(559,1472.5) rotate(90)" font-family='"DejaVu Sans","Liberation Sans",sans-serif' font-size="23" font-weight="200" fill="#333" text-anchor="start" textLength="82.8" lengthAdjust="spacingAndGlyphs" >3-0.50</text>
<text transform="translate(1330,1934.8) rotate(90)" font-family='"Liberation Sans","Noto Sans CJK SC",sans-serif' font-size="20.6" font-weight="400" fill="#333" text-anchor="start" textLength="45.4" lengthAdjust="spacingAndGlyphs" >COM</text>
<line x1="1328.7" y1="1991.5" x2="1379.6" y2="1991.5" stroke="#333" stroke-width="1.0" />
<circle cx="1387" cy="1991.5" r="7.2" stroke="#333" stroke-width="1.0" fill="none"/>
<text transform="translate(1378.5,1968.5) rotate(90)" font-family='"Liberation Sans","Noto Sans CJK SC",sans-serif' font-size="21" font-weight="400" fill="#333" text-anchor="start" >1</text>
<line x1="1389.5" y1="1998.4" x2="1418.6" y2="2104.6" stroke="#333" stroke-width="1.0" />
<circle cx="1423.7" cy="2090.9" r="7.2" stroke="#333" stroke-width="1.0" fill="none"/>
<path d="M1431,2090.9 H1442.6 V2179.4" stroke="#333" stroke-width="1.0" fill="none" />
<text transform="translate(1447,2087.5) rotate(90)" font-family='"Liberation Sans","Noto Sans CJK SC",sans-serif' font-size="21" font-weight="400" fill="#333" text-anchor="start" >2</text>
<text transform="translate(1419.6,2150.8) rotate(90)" font-family='"Liberation Sans","Noto Sans CJK SC",sans-serif' font-size="20.6" font-weight="400" fill="#333" text-anchor="start" textLength="27.4" lengthAdjust="spacingAndGlyphs" >NC</text>
<circle cx="1348" cy="2090.9" r="7.2" stroke="#333" stroke-width="1.0" fill="none"/>
<path d="M1340.7,2090.9 H1328.7 V2179.4" stroke="#333" stroke-width="1.0" fill="none" />
<text transform="translate(1307.5,2086.5) rotate(90)" font-family='"Liberation Sans","Noto Sans CJK SC",sans-serif' font-size="21" font-weight="400" fill="#333" text-anchor="start" >3</text>
<text transform="translate(1306.6,2150.8) rotate(90)" font-family='"Liberation Sans","Noto Sans CJK SC",sans-serif' font-size="20.6" font-weight="400" fill="#333" text-anchor="start" textLength="28.2" lengthAdjust="spacingAndGlyphs" >NO</text>
<circle cx="989.3" cy="1924.7" r="24.9" stroke="#333" stroke-width="1.0" fill="none"/>
<circle cx="989.3" cy="2112.1" r="24.9" stroke="#333" stroke-width="1.0" fill="none"/>
<line x1="989.5" y1="1877.8" x2="989.5" y2="2156.6" stroke="#333" stroke-width="1.0" stroke-dasharray="76 5 10 5"/>
<line x1="921.6" y1="1924.5" x2="953" y2="1924.5" stroke="#333" stroke-width="1.0" />
<line x1="957" y1="1924.5" x2="1022.2" y2="1924.5" stroke="#333" stroke-width="1.0" />
<line x1="921.6" y1="2112.5" x2="953" y2="2112.5" stroke="#333" stroke-width="1.0" />
<line x1="957" y1="2112.5" x2="1022.2" y2="2112.5" stroke="#333" stroke-width="1.0" />
<line x1="924.5" y1="1924.7" x2="924.5" y2="1982" stroke="#333" stroke-width="1.0" />
<line x1="924.5" y1="2054" x2="924.5" y2="2112.1" stroke="#333" stroke-width="1.0" />
<polygon points="924.1,1924.7 927.7,1946.7 920.5,1946.7" fill="#333"/>
<polygon points="924.1,2112.1 920.5,2090.1 927.7,2090.1" fill="#333"/>
<text transform="translate(912.3,1985.1) rotate(90)" font-family='"DejaVu Sans","Liberation Sans",sans-serif' font-size="33" font-weight="200" fill="#333" text-anchor="start" textLength="66.1" lengthAdjust="spacingAndGlyphs" >9.50</text>
<path d="M921.6,1904.2 L1119.9,1963 V1984.1" stroke="#333" stroke-width="1.0" fill="none" />
<polygon points="965.1,1917.2 943.0,1914.4 945.0,1907.5" fill="#333"/>
<polygon points="1013.6,1931.5 1035.7,1934.3 1033.7,1941.2" fill="#333"/>
<text transform="translate(1110.6,1988.9) rotate(90)" font-family='"DejaVu Sans","Liberation Sans",sans-serif' font-size="40" font-weight="200" fill="#333" text-anchor="start" textLength="273" lengthAdjust="spacingAndGlyphs" >2-ø2.6 Dia pillars</text>
<circle cx="604.5" cy="1950.3" r="13.1" stroke="#333" stroke-width="1.0" fill="none"/>
<line x1="554" y1="1950.5" x2="625.4" y2="1950.5" stroke="#333" stroke-width="1.0" />
<circle cx="604.5" cy="2078.3" r="13.1" stroke="#333" stroke-width="1.0" fill="none"/>
<line x1="554" y1="2078.5" x2="625.4" y2="2078.5" stroke="#333" stroke-width="1.0" />
<circle cx="604.5" cy="2192.2" r="13.1" stroke="#333" stroke-width="1.0" fill="none"/>
<line x1="554" y1="2192.5" x2="625.4" y2="2192.5" stroke="#333" stroke-width="1.0" />
<line x1="604.5" y1="1928.9" x2="604.5" y2="2214.6" stroke="#333" stroke-width="1.0" stroke-dasharray="50 7"/>
<rect x="592.3" y="2139.4" width="24.6" height="20.2" stroke="#333" stroke-width="1.0" fill="none" />
<line x1="557.5" y1="1950.3" x2="557.5" y2="1982" stroke="#333" stroke-width="1.0" />
<line x1="557.5" y1="2037" x2="557.5" y2="2114" stroke="#333" stroke-width="1.0" />
<line x1="557.5" y1="2167.5" x2="557.5" y2="2192.2" stroke="#333" stroke-width="1.0" />
<polygon points="557.5,1950.3 560.8,1966.3 554.2,1966.3" fill="#333"/>
<polygon points="557.5,2078.3 554.2,2062.3 560.8,2062.3" fill="#333"/>
<polygon points="557.5,2078.3 560.8,2094.3 554.2,2094.3" fill="#333"/>
<polygon points="557.5,2192.2 554.2,2176.2 560.8,2176.2" fill="#333"/>
<text transform="translate(549,1984.6) rotate(90)" font-family='"DejaVu Sans","Liberation Sans",sans-serif' font-size="23.5" font-weight="200" fill="#333" text-anchor="start" textLength="49.7" lengthAdjust="spacingAndGlyphs" >5.05</text>
<text transform="translate(549,2115.7) rotate(90)" font-family='"DejaVu Sans","Liberation Sans",sans-serif' font-size="23.5" font-weight="200" fill="#333" text-anchor="start" textLength="49.3" lengthAdjust="spacingAndGlyphs" >5.05</text>
<text transform="translate(656.8,1871) rotate(90)" font-family='"DejaVu Sans","Liberation Sans",sans-serif' font-size="10.8" font-weight="400" fill="#333" text-anchor="start" textLength="64" lengthAdjust="spacingAndGlyphs" >3-1.35 to</text>
<text transform="translate(640.7,1895.7) rotate(90)" font-family='"DejaVu Sans","Liberation Sans",sans-serif' font-size="10.8" font-weight="400" fill="#333" text-anchor="start" textLength="38.3" lengthAdjust="spacingAndGlyphs" >1.5dia</text>
<line x1="635.9" y1="1928" x2="614.5" y2="1941.7" stroke="#333" stroke-width="1.0" />
<text transform="translate(639.5,2016) rotate(90)" font-family='"Liberation Serif","Noto Serif CJK SC",serif' font-size="17.5" font-weight="400" fill="#333" text-anchor="start" textLength="71.4" lengthAdjust="spacingAndGlyphs" >按摯位置</text>
<path d="M647.5,2090.6 V2109.8 L612,2137.6" stroke="#333" stroke-width="1.0" fill="none" />
<polygon points="610.5,2138.9 622.5,2125.1 626.8,2130.4" fill="#333"/>
<g opacity="0.546" fill="#b2e0e9" stroke="none" fill-rule="evenodd">
<path d="M757.1,499.6 C760.2,500.8 768.5,502.7 775.6,507.0 C782.7,511.3 791.9,516.9 799.6,525.5 C807.3,534.1 815.0,547.9 821.8,558.7 C828.6,569.5 834.8,580.3 840.3,590.2 C845.8,600.1 850.2,607.1 855.1,617.9 C860.0,628.7 866.2,644.0 869.9,654.8 C873.6,665.6 875.4,673.4 877.3,682.6 C879.1,691.9 881.0,701.1 881.0,710.3 C881.0,719.5 879.5,730.3 877.3,738.0 C875.1,745.7 872.5,751.5 868.0,756.5 C863.5,761.5 858.0,765.4 850.0,768.0 C842.0,770.6 828.8,771.7 820.0,772.0 C811.2,772.3 805.1,770.8 797.2,770.0 C789.3,769.2 783.8,768.9 772.5,767.0 C761.2,765.1 740.3,763.5 729.4,758.4 C718.5,753.3 714.9,744.8 707.2,736.2 C699.5,727.6 690.9,717.1 683.2,706.6 C675.5,696.1 667.8,685.0 661.0,673.3 C654.2,661.6 647.4,647.2 642.5,636.4 C637.6,625.6 632.9,616.3 631.4,608.6 C629.9,600.9 630.8,594.7 633.3,590.1 C635.8,585.5 639.4,583.0 646.2,580.9 C653.0,578.8 664.6,577.2 673.9,577.2 C683.1,577.2 692.5,579.0 701.7,580.9 C711.0,582.8 718.6,585.5 729.4,588.3 C740.2,591.1 755.6,595.0 766.4,597.5 C777.2,600.0 786.8,601.4 794.1,603.1 C801.4,604.9 807.4,607.2 810.0,608.0 C808.3,605.7 804.2,598.0 800.0,594.0 C795.8,590.0 790.4,586.8 784.8,583.7 C779.2,580.6 772.5,579.6 766.4,575.4 C760.2,571.2 752.8,564.0 747.9,558.7 C743.0,553.5 739.1,548.8 736.8,543.9 C734.5,539.0 734.0,533.7 734.0,529.1 C734.0,524.5 734.8,519.9 736.8,516.2 C738.8,512.5 742.6,509.8 746.0,507.0 C749.4,504.2 755.2,500.8 757.1,499.6 Z M681.3,627.1 C685.0,622.8 699.8,619.7 710.9,619.7 C722.0,619.7 735.6,623.4 747.9,627.1 C760.2,630.8 774.0,636.4 784.8,641.9 C795.6,647.4 804.6,653.6 812.6,660.4 C820.6,667.2 828.3,674.9 832.9,682.6 C837.5,690.3 839.7,700.1 840.3,706.6 C840.9,713.1 839.7,717.3 836.6,721.4 C833.5,725.5 827.9,728.7 821.8,731.0 C815.7,733.3 806.2,734.8 800.0,735.0 C793.8,735.2 792.2,735.7 784.8,732.5 C777.3,729.3 763.6,722.0 755.3,715.8 C747.0,709.5 742.4,703.0 735.0,695.0 C727.6,687.0 718.6,676.2 710.9,668.0 C703.2,659.8 693.6,652.4 688.7,645.6 C683.8,638.8 677.6,631.4 681.3,627.1 Z"/>
<path d="M742.0,790.0 C735.0,793.3 731.4,814.6 728.0,825.0 C724.6,835.4 722.6,843.2 721.4,852.4 C720.1,861.6 720.5,870.8 720.5,880.0 C720.5,889.2 720.3,900.2 721.4,907.9 C722.5,915.6 723.6,918.7 727.0,926.4 C730.4,934.1 735.6,945.5 741.8,954.1 C747.9,962.7 755.6,971.9 763.9,978.1 C772.2,984.3 786.4,989.3 791.7,991.1 C797.1,992.9 795.7,990.5 796.0,989.0 C796.3,987.5 796.4,986.7 793.5,981.8 C790.6,976.9 784.2,968.8 778.7,959.6 C773.2,950.4 765.4,938.1 760.2,926.4 C755.0,914.7 749.8,901.7 747.3,889.4 C744.8,877.1 744.9,862.3 745.5,852.4 C746.1,842.5 746.9,838.1 751.0,830.2 C755.1,822.3 771.5,811.7 770.0,805.0 C768.5,798.3 749.0,786.7 742.0,790.0 Z"/>
<path d="M742.0,792.0 C741.8,781.1 742.0,771.2 750.0,765.0 C758.0,758.8 775.8,757.2 790.0,755.0 C804.2,752.8 823.3,751.7 835.0,752.0 C846.7,752.3 851.8,749.5 860.0,757.0 C868.2,764.5 875.5,784.2 884.1,797.0 C892.7,809.8 904.1,821.7 911.8,834.0 C919.5,846.3 925.1,858.6 930.3,870.9 C935.5,883.2 940.7,897.2 943.2,907.9 C945.7,918.6 945.5,925.8 945.5,935.0 C945.5,944.2 944.3,954.1 943.2,963.3 C942.1,972.5 939.2,981.9 939.0,990.0 C938.8,998.1 944.3,1007.3 942.0,1012.0 C939.7,1016.7 932.0,1017.7 925.0,1018.0 C918.0,1018.3 905.9,1016.0 900.0,1014.0 C894.1,1012.0 893.8,1011.2 889.6,1005.8 C885.4,1000.4 881.9,992.0 874.8,981.8 C867.7,971.6 855.7,957.1 847.1,944.8 C838.5,932.5 830.8,921.4 823.1,907.9 C815.4,894.4 808.9,874.0 800.9,863.5 C792.9,853.0 783.3,850.5 775.0,845.0 C766.7,839.5 756.5,839.0 751.0,830.2 C745.5,821.4 742.2,802.9 742.0,792.0 Z M867.0,896.0 C868.2,892.5 875.0,890.3 880.0,891.0 C885.0,891.7 891.5,894.8 897.0,900.0 C902.5,905.2 908.5,914.0 913.0,922.0 C917.5,930.0 921.7,939.2 924.0,948.0 C926.3,956.8 927.3,967.7 927.0,975.0 C926.7,982.3 924.5,989.7 922.0,992.0 C919.5,994.3 915.7,993.8 912.0,989.0 C908.3,984.2 904.2,971.5 900.0,963.0 C895.8,954.5 891.5,946.5 887.0,938.0 C882.5,929.5 876.3,919.0 873.0,912.0 C869.7,905.0 865.8,899.5 867.0,896.0 Z"/>
<path d="M767.6,1049.0 C768.8,1039.8 769.6,1033.8 774.5,1028.3 C779.4,1022.8 785.4,1018.7 796.9,1016.2 C808.4,1013.8 827.1,1013.9 843.5,1013.6 C859.9,1013.3 881.7,1015.4 895.3,1014.5 C908.9,1013.6 916.7,1008.4 925.0,1008.0 C933.3,1007.6 939.5,1008.7 945.0,1012.0 C950.5,1015.3 953.6,1019.0 958.0,1028.0 C962.4,1037.0 968.7,1052.6 971.2,1066.3 C973.7,1080.0 973.0,1095.6 973.0,1110.0 C973.0,1124.4 972.7,1142.0 971.2,1152.5 C969.8,1163.0 968.3,1167.2 964.3,1173.2 C960.3,1179.2 955.6,1185.5 947.0,1188.8 C938.4,1192.1 929.8,1192.4 912.5,1193.1 C895.2,1193.8 859.3,1193.4 843.5,1193.1 C827.7,1192.8 825.4,1193.9 817.6,1191.4 C809.8,1189.0 802.6,1184.9 796.9,1178.4 C791.1,1171.9 787.4,1162.6 783.1,1152.5 C778.8,1142.4 773.7,1129.5 771.1,1118.0 C768.5,1106.5 768.2,1095.0 767.6,1083.5 C767.0,1072.0 766.5,1058.2 767.6,1049.0 Z M799.5,1066.3 C800.1,1058.8 802.6,1055.8 805.6,1052.5 C808.6,1049.2 813.0,1047.3 817.6,1046.4 C822.2,1045.5 828.3,1045.4 833.2,1047.3 C838.1,1049.2 843.0,1051.6 847.0,1057.6 C851.0,1063.6 853.8,1074.0 857.3,1083.5 C860.8,1093.0 865.1,1106.5 867.7,1114.6 C870.3,1122.6 874.0,1127.8 872.9,1131.8 C871.8,1135.8 865.7,1137.5 860.8,1138.7 C855.9,1139.9 849.2,1139.9 843.5,1138.7 C837.8,1137.5 831.5,1135.2 826.3,1131.8 C821.1,1128.3 816.5,1123.8 812.5,1118.0 C808.5,1112.2 804.3,1105.9 802.1,1097.3 C799.9,1088.7 798.9,1073.8 799.5,1066.3 Z M883.2,1031.8 C884.1,1022.9 890.4,1023.1 895.3,1021.4 C900.2,1019.7 907.3,1018.2 912.5,1021.4 C917.7,1024.6 922.8,1030.1 926.3,1040.4 C929.8,1050.8 932.3,1070.6 933.2,1083.5 C934.1,1096.4 933.2,1109.7 931.5,1118.0 C929.8,1126.3 927.2,1130.4 922.9,1133.6 C918.6,1136.8 909.6,1139.6 905.6,1137.0 C901.6,1134.4 901.3,1128.3 898.7,1118.0 C896.1,1107.7 892.7,1089.3 890.1,1074.9 C887.5,1060.5 882.3,1040.7 883.2,1031.8 Z"/>
<path d="M944.0,1742.0 C940.8,1737.7 939.2,1732.9 935.6,1723.4 C932.0,1713.9 928.3,1704.2 922.2,1685.0 C916.1,1665.8 906.2,1634.0 899.2,1608.4 C892.2,1582.9 887.5,1563.1 880.0,1531.7 C872.5,1500.3 860.8,1445.3 854.2,1420.0 C847.6,1394.7 844.1,1390.8 840.4,1379.8 C836.7,1368.8 834.7,1363.1 831.8,1353.9 C828.9,1344.7 825.3,1334.7 823.1,1324.6 C820.9,1314.5 818.8,1304.4 818.8,1293.5 C818.8,1282.6 820.1,1268.2 823.1,1259.0 C826.1,1249.8 830.3,1244.6 836.9,1238.3 C843.5,1232.0 853.6,1225.4 862.8,1221.1 C872.0,1216.8 882.9,1214.3 892.1,1212.4 C901.3,1210.5 909.4,1209.8 918.0,1209.8 C926.6,1209.8 935.3,1210.5 943.9,1212.4 C952.5,1214.3 961.8,1217.1 969.8,1221.1 C977.8,1225.1 985.9,1230.8 992.2,1236.6 C998.5,1242.3 1003.8,1249.0 1007.7,1255.6 C1011.6,1262.2 1014.6,1269.4 1015.5,1276.3 C1016.4,1283.2 1015.0,1290.7 1012.9,1297.0 C1010.8,1303.3 1007.5,1308.7 1002.6,1314.2 C997.7,1319.7 990.5,1325.5 983.6,1329.8 C976.7,1334.1 969.2,1337.4 961.2,1340.1 C953.2,1342.8 943.9,1344.7 935.3,1346.1 C926.7,1347.5 917.4,1348.4 909.4,1348.7 C901.4,1349.0 893.0,1348.8 887.0,1347.9 C881.0,1347.1 876.4,1345.8 873.2,1343.6 C870.0,1341.4 868.3,1337.5 868.0,1334.9 C867.7,1332.3 870.0,1329.6 871.4,1328.0 C872.8,1326.4 871.7,1326.3 876.6,1325.4 C881.5,1324.5 892.4,1324.1 900.8,1322.8 C909.1,1321.5 919.2,1320.3 926.7,1317.7 C934.2,1315.1 940.2,1311.3 945.6,1307.3 C951.0,1303.3 956.0,1298.7 959.4,1293.5 C962.8,1288.3 965.7,1281.5 966.3,1276.3 C966.9,1271.1 965.2,1266.5 962.9,1262.5 C960.6,1258.5 957.1,1255.0 952.5,1252.1 C947.9,1249.2 941.6,1246.6 935.3,1245.2 C929.0,1243.8 921.8,1243.2 914.6,1243.5 C907.4,1243.8 899.3,1244.6 892.1,1246.9 C884.9,1249.2 877.7,1253.0 871.4,1257.3 C865.1,1261.6 858.4,1267.6 854.2,1272.8 C850.0,1278.0 847.8,1283.4 846.4,1288.3 C845.0,1293.2 845.2,1295.5 845.6,1302.1 C846.0,1308.7 847.3,1319.4 849.0,1328.0 C850.7,1336.6 853.6,1345.3 855.9,1353.9 C858.2,1362.5 860.2,1368.8 862.8,1379.8 C865.4,1390.8 863.7,1394.7 871.4,1420.0 C879.1,1445.3 899.5,1500.3 908.8,1531.7 C918.1,1563.1 920.3,1582.9 927.0,1608.4 C933.7,1634.0 943.4,1665.8 949.0,1685.0 C954.6,1704.2 958.0,1714.2 960.5,1723.4 C963.0,1732.6 964.9,1735.7 964.0,1740.0 C963.1,1744.3 958.3,1748.7 955.0,1749.0 C951.7,1749.3 947.2,1746.3 944.0,1742.0 Z"/>
<text transform="translate(886,1371.5) rotate(73.8)" font-family='"Liberation Sans","Noto Sans CJK SC",sans-serif' font-size="172" font-weight="500" fill="#b2e0e9" text-anchor="start" letter-spacing="21">德傲</text>
</g>
</svg></body></html>
